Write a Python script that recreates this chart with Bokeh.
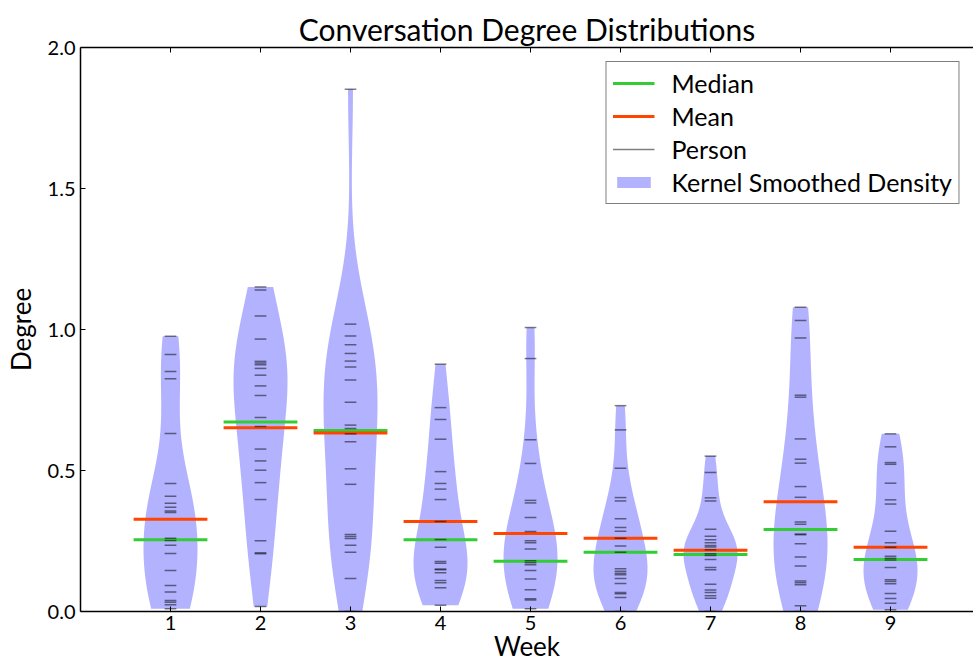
import numpy as np
from bokeh.plotting import figure
from bokeh.models import FixedTicker, LinearAxis, Legend, LegendItem, Range1d
from bokeh.embed import file_html
from bokeh.resources import INLINE

FONT = "Lato"

weeks = [1, 2, 3, 4, 5, 6, 7, 8, 9]
week_labels = ["1", "2", "3", "4", "5", "6", "7", "8", "9"]

# Degree of each person, one list per week
degree_w1 = [0.976, 0.911, 0.851, 0.825, 0.631, 0.454, 0.409, 0.384, 0.370, 0.356, 0.351,
             0.260, 0.252, 0.235, 0.206, 0.145, 0.092, 0.069, 0.039, 0.033, 0.024, 0.010]
degree_w2 = [1.151, 1.140, 1.048, 0.966, 0.887, 0.881, 0.875, 0.862, 0.838, 0.800, 0.766,
             0.688, 0.656, 0.576, 0.534, 0.501, 0.457, 0.397, 0.251, 0.208, 0.205, 0.018]
degree_w3 = [1.852, 1.019, 0.977, 0.946, 0.915, 0.888, 0.867, 0.821, 0.742, 0.661, 0.649,
             0.630, 0.602, 0.506, 0.451, 0.273, 0.266, 0.259, 0.235, 0.210, 0.117, 0.0]
degree_w4 = [0.877, 0.723, 0.681, 0.611, 0.496, 0.454, 0.434, 0.397, 0.319, 0.255, 0.228,
             0.177, 0.171, 0.151, 0.148, 0.137, 0.110, 0.102, 0.084, 0.022]
degree_w5 = [1.007, 0.897, 0.609, 0.525, 0.394, 0.385, 0.333, 0.284, 0.251, 0.244, 0.222,
             0.180, 0.173, 0.166, 0.145, 0.115, 0.077, 0.045, 0.041, 0.010]
degree_w6 = [0.730, 0.644, 0.508, 0.404, 0.392, 0.329, 0.298, 0.285, 0.260, 0.232, 0.210,
             0.152, 0.143, 0.136, 0.130, 0.117, 0.099, 0.067, 0.063, 0.050, 0.0]
degree_w7 = [0.551, 0.493, 0.403, 0.392, 0.292, 0.267, 0.254, 0.244, 0.234, 0.229, 0.219,
             0.205, 0.199, 0.184, 0.156, 0.148, 0.097, 0.076, 0.067, 0.056, 0.047, 0.0]
degree_w8 = [1.079, 1.032, 0.970, 0.767, 0.760, 0.612, 0.540, 0.526, 0.443, 0.405, 0.317,
             0.309, 0.275, 0.272, 0.240, 0.193, 0.161, 0.108, 0.102, 0.095, 0.020, 0.0]
degree_w9 = [0.630, 0.584, 0.528, 0.522, 0.455, 0.396, 0.381, 0.285, 0.244, 0.228, 0.196,
             0.189, 0.183, 0.156, 0.113, 0.106, 0.098, 0.064, 0.046, 0.029, 0.006]

medians = [0.254, 0.672, 0.642, 0.254, 0.178, 0.210, 0.202, 0.291, 0.184]
means = [0.327, 0.652, 0.633, 0.319, 0.277, 0.260, 0.217, 0.389, 0.228]

y_ticks = [0.0, 0.5, 1.0, 1.5, 2.0]
y_tick_labels = ["0.0", "0.5", "1.0", "1.5", "2.0"]

all_degrees = [degree_w1, degree_w2, degree_w3, degree_w4, degree_w5,
               degree_w6, degree_w7, degree_w8, degree_w9]

VIOLIN_HALF = 0.3   # max half-width of a violin, in week units
STAT_HALF = 0.41    # half-length of median / mean bars
TICK_HALF = 0.065   # half-length of a person's tick


def kde_outline(vals, center):
    """Gaussian kernel density (Scott's rule bandwidth), cut at the data range."""
    v = np.asarray(vals, dtype=float)
    n = len(v)
    bw = np.std(v, ddof=1) * n ** (-0.2)
    grid = np.linspace(v.min(), v.max(), 200)
    dens = np.exp(-0.5 * ((grid[:, None] - v[None, :]) / bw) ** 2).sum(axis=1)
    half = VIOLIN_HALF * dens / dens.max()
    xs = np.concatenate([center - half, (center + half)[::-1]])
    ys = np.concatenate([grid, grid[::-1]])
    return list(xs), list(ys)


p = figure(frame_width=893, frame_height=564, output_backend="svg", toolbar_location=None,
           x_range=Range1d(0, 9.922), y_range=Range1d(0, 2.0),
           min_border_left=80, min_border_right=0, min_border_top=47, min_border_bottom=55,
           x_axis_location=None, y_axis_location=None)
p.outline_line_color = None
p.background_fill_color = "white"
p.border_fill_color = "white"
p.xgrid.visible = False
p.ygrid.visible = False

p.title.text = "Conversation Degree Distributions"
p.title.align = "center"
p.title.text_font = FONT
p.title.text_font_size = "30px"
p.title.text_font_style = "normal"
p.title.text_color = "black"
p.title.standoff = 2

# violins
vx, vy = [], []
for w, vals in zip(weeks, all_degrees):
    xs, ys = kde_outline(vals, w)
    vx.append(xs)
    vy.append(ys)
r_violin = p.patches(vx, vy, fill_color="blue", fill_alpha=0.3, line_color=None)

# median and mean bars
wk = np.array(weeks, dtype=float)
r_median = p.segment(x0=wk - STAT_HALF, x1=wk + STAT_HALF, y0=medians, y1=medians,
                     line_color="#32cd32", line_width=3)
r_mean = p.segment(x0=wk - STAT_HALF, x1=wk + STAT_HALF, y0=means, y1=means,
                   line_color="#ff4500", line_width=3)

# one tick per person
px, py = [], []
for w, vals in zip(weeks, all_degrees):
    px.extend([w] * len(vals))
    py.extend(vals)
px = np.array(px, dtype=float)
r_person = p.segment(x0=px - TICK_HALF, x1=px + TICK_HALF, y0=py, y1=py,
                     line_color="black", line_alpha=0.5, line_width=1.5)


def style_axis(ax):
    ax.axis_line_color = "black"
    ax.axis_line_width = 1.5
    ax.major_tick_line_color = "black"
    ax.major_tick_in = 5
    ax.major_tick_out = 0
    ax.minor_tick_line_color = None
    ax.major_label_text_font = FONT
    ax.major_label_text_font_size = "20px"
    ax.major_label_text_color = "black"
    ax.axis_label_text_font = FONT
    ax.axis_label_text_font_size = "26px"
    ax.axis_label_text_font_style = "normal"
    ax.axis_label_text_color = "black"


xaxis = LinearAxis(ticker=FixedTicker(ticks=weeks), axis_label="Week",
                   major_label_overrides={w: s for w, s in zip(weeks, week_labels)})
style_axis(xaxis)
xaxis.major_label_standoff = 4
xaxis.axis_label_standoff = -3
p.add_layout(xaxis, "below")

# tick marks along the top edge, no labels
top_axis = LinearAxis(ticker=FixedTicker(ticks=weeks),
                      major_label_overrides={w: "" for w in weeks})
style_axis(top_axis)
top_axis.major_label_standoff = 0
p.add_layout(top_axis, "above")

yaxis = LinearAxis(ticker=FixedTicker(ticks=y_ticks), axis_label="Degree",
                   major_label_overrides={t: s for t, s in zip(y_ticks, y_tick_labels)})
style_axis(yaxis)
yaxis.major_label_standoff = 5
yaxis.axis_label_standoff = 8
p.add_layout(yaxis, "left")

legend = Legend(items=[
    LegendItem(label="Median", renderers=[r_median]),
    LegendItem(label="Mean", renderers=[r_mean]),
    LegendItem(label="Person", renderers=[r_person]),
    LegendItem(label="Kernel Smoothed Density", renderers=[r_violin]),
], location="top_right")
legend.margin = 14
legend.padding = 6
legend.spacing = 3
legend.label_height = 25
legend.glyph_height = 14
legend.glyph_width = 42
legend.label_standoff = 17
legend.label_text_font = FONT
legend.label_text_font_size = "25px"
legend.label_text_color = "black"
legend.border_line_color = "black"
legend.border_line_width = 1.5
legend.background_fill_color = "white"
legend.background_fill_alpha = 1.0
p.add_layout(legend, "center")

open("out.html", "w").write(file_html(p, INLINE))
